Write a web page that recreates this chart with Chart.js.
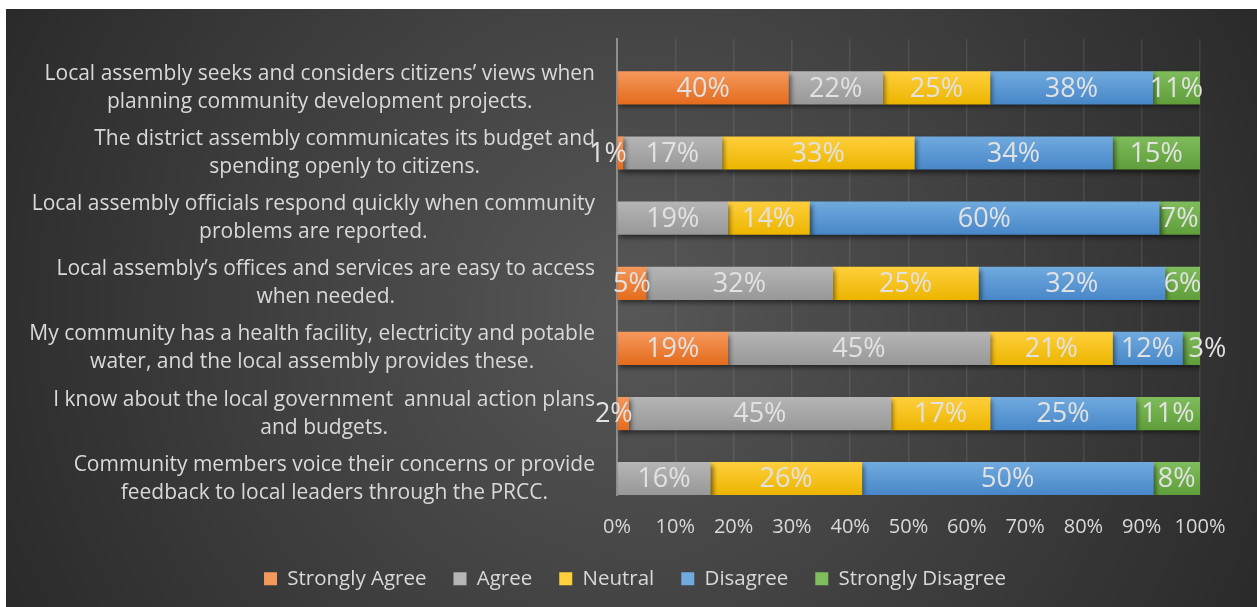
<!DOCTYPE html>
<html>
<head>
<meta charset="utf-8">
<script src="https://cdn.jsdelivr.net/npm/chart.js@4.4.0/dist/chart.umd.min.js"></script>
<style>
  html, body { margin: 0; padding: 0; background: #fff; }
  #wrap { position: absolute; left: 6px; top: 9px; width: 1251px; height: 598px; }
</style>
</head>
<body>
<div id="wrap"><canvas id="chart"></canvas></div>
<script>
// survey statements, top to bottom
const statements = [
  ['Local assembly seeks and considers citizens’ views when', 'planning community development projects.'],
  ['The district assembly communicates its budget and', 'spending openly to citizens.'],
  ['Local assembly officials respond quickly when community', 'problems are reported.'],
  ['Local assembly’s offices and services are easy to access', 'when needed.'],
  ['My community has a health facility, electricity and potable', 'water, and the local assembly provides these.'],
  ['I know about the local government  annual action plans', 'and budgets.'],
  ['Community members voice their concerns or provide', 'feedback to local leaders through the PRCC.']
];

const responses = ['Strongly Agree', 'Agree', 'Neutral', 'Disagree', 'Strongly Disagree'];

// reported percentages per statement
const stronglyAgree    = [40, 1, null, 5, 19, 2, null];
const agree            = [22, 17, 19, 32, 45, 45, 16];
const neutral          = [25, 33, 14, 25, 21, 17, 26];
const disagree         = [38, 34, 60, 32, 12, 25, 50];
const stronglyDisagree = [11, 15, 7, 6, 3, 11, 8];

const series = [stronglyAgree, agree, neutral, disagree, stronglyDisagree];

// top / bottom shade of each bar colour
const shades = [
  ['#f5985c', '#e46c1d'],
  ['#b5b5b5', '#989898'],
  ['#ffcf3c', '#ecb500'],
  ['#70aade', '#4887c8'],
  ['#7fbc5c', '#5f9e3a']
];

const FONT = '"Open Sans", "DejaVu Sans", sans-serif';
const TEXT = '#d9d9d9';

// 100% stacked: each row is scaled by its own total
const rowTotals = statements.map((s, i) =>
  series.reduce((sum, arr) => sum + (arr[i] || 0), 0));
const toShare = arr => arr.map((v, i) => v == null ? null : v / rowTotals[i] * 100);

function barFill(k) {
  return (c) => {
    const chart = c.chart;
    const ys = chart.scales.y;
    if (c.type !== 'data' || !ys || !chart.chartArea) return shades[k][0];
    const slot = ys.height / statements.length;
    const top = ys.getPixelForValue(c.dataIndex);
    const g = chart.ctx.createLinearGradient(0, top, 0, top + slot / 2);
    g.addColorStop(0, shades[k][0]);
    g.addColorStop(1, shades[k][1]);
    return g;
  };
}

const datasets = [
  // empty stack that keeps the upper half of each row free
  { label: '', data: [], stack: 'pad' }
].concat(series.map((arr, k) => ({
  label: responses[k],
  data: toShare(arr),
  raw: arr,
  stack: 'survey',
  backgroundColor: barFill(k),
  borderWidth: 0
})));

const background = {
  id: 'background',
  beforeDraw(chart) {
    const { ctx, width, height } = chart;
    const g = ctx.createRadialGradient(width * 0.5, height * 0.5, 0, width * 0.5, height * 0.5, width * 0.58);
    g.addColorStop(0, '#575757');
    g.addColorStop(1, '#282828');
    ctx.save();
    ctx.fillStyle = g;
    ctx.fillRect(0, 0, width, height);
    ctx.restore();
  }
};

const barShadow = {
  id: 'barShadow',
  beforeDatasetDraw(chart) {
    const ctx = chart.ctx;
    ctx.save();
    ctx.shadowColor = 'rgba(0, 0, 0, 0.55)';
    ctx.shadowBlur = 5;
    ctx.shadowOffsetX = 2;
    ctx.shadowOffsetY = 3;
  },
  afterDatasetDraw(chart) {
    chart.ctx.restore();
  }
};

// value labels; tiny end segments get their label pushed out past the bar
const barLabels = {
  id: 'barLabels',
  afterDatasetsDraw(chart) {
    const ctx = chart.ctx;
    const n = chart.data.datasets.length;
    ctx.save();
    ctx.font = '27px ' + FONT;
    ctx.fillStyle = '#e2e2e2';
    ctx.textBaseline = 'middle';
    chart.data.datasets.forEach((ds, di) => {
      if (!ds.raw) return;
      chart.getDatasetMeta(di).data.forEach((bar, i) => {
        const v = ds.raw[i];
        if (v == null) return;
        const left = Math.min(bar.x, bar.base);
        const right = Math.max(bar.x, bar.base);
        const first = series.slice(0, di - 1).every(arr => arr[i] == null);
        const last = di === n - 1;
        if (v <= 3 && first) {
          ctx.textAlign = 'right';
          ctx.fillText(v + '%', right + 4, bar.y + 1);
        } else if (v <= 3 && last) {
          ctx.textAlign = 'left';
          ctx.fillText(v + '%', left + 6, bar.y + 1);
        } else {
          ctx.textAlign = 'center';
          ctx.fillText(v + '%', (left + right) / 2, bar.y + 1);
        }
      });
    });
    ctx.restore();
  }
};

// wrapped statements, each line centred inside its own block
const statementLabels = {
  id: 'statementLabels',
  afterDraw(chart) {
    const ctx = chart.ctx;
    const bars = chart.getDatasetMeta(2).data;
    const right = chart.chartArea.left - 22;
    ctx.save();
    ctx.font = '21px ' + FONT;
    ctx.fillStyle = TEXT;
    ctx.textAlign = 'center';
    ctx.textBaseline = 'middle';
    statements.forEach((lines, i) => {
      const w = Math.max(...lines.map(l => ctx.measureText(l).width));
      const cx = right - w / 2;
      const cy = bars[i].y;
      lines.forEach((l, j) => {
        ctx.fillText(l, cx, cy + (j - (lines.length - 1) / 2) * 28);
      });
    });
    ctx.restore();
  }
};

new Chart(document.getElementById('chart'), {
  type: 'bar',
  data: { labels: statements, datasets },
  plugins: [background, barShadow, barLabels, statementLabels],
  options: {
    indexAxis: 'y',
    responsive: true,
    maintainAspectRatio: false,
    animation: false,
    layout: { padding: { top: 30, right: 57, left: 64, bottom: 8 } },
    datasets: { bar: { categoryPercentage: 1, barPercentage: 1 } },
    scales: {
      x: {
        stacked: true,
        min: 0,
        max: 100,
        ticks: {
          stepSize: 10,
          callback: v => v + '%',
          color: TEXT,
          font: { family: FONT, size: 20 },
          padding: 20
        },
        grid: { color: 'rgba(255, 255, 255, 0.09)', lineWidth: 1.5, drawTicks: false },
        border: { display: false },
        afterFit: s => { s.height = 46.5; }
      },
      y: {
        stacked: true,
        ticks: { display: false },
        grid: { display: false },
        border: { color: '#8e8e8e', width: 2 },
        afterFit: s => { s.width = 547; }
      }
    },
    plugins: {
      legend: {
        position: 'bottom',
        labels: {
          filter: item => item.text !== '',
          color: TEXT,
          boxWidth: 13,
          boxHeight: 13,
          padding: 27,
          font: { family: FONT, size: 20.5 },
          generateLabels: chart => chart.data.datasets.map((ds, i) => ({
            text: ds.label,
            fillStyle: i ? shades[i - 1][0] : 'transparent',
            strokeStyle: 'transparent',
            lineWidth: 0,
            fontColor: TEXT,
            datasetIndex: i
          }))
        }
      },
      tooltip: { enabled: false }
    }
  }
});
</script>
</body>
</html>
